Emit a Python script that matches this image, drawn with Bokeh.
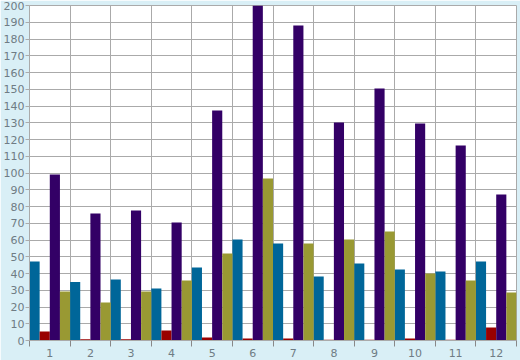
from bokeh.plotting import figure
from bokeh.models import FixedTicker, Range1d
from bokeh.embed import file_html
from bokeh.resources import INLINE

categories = ["1", "2", "3", "4", "5", "6", "7", "8", "9", "10", "11", "12"]
series_blue = [47.2, 35.0, 36.4, 31.0, 43.6, 60.3, 57.9, 38.2, 46.0, 42.4, 41.2, 47.2]
series_red = [5.4, 0.8, 0.8, 6.0, 1.8, 1.2, 1.2, 0.4, 0.5, 1.2, 0.5, 7.8]
series_purple = [99.1, 75.8, 77.6, 70.4, 137.3, 200.0, 188.1, 130.1, 150.4, 129.6, 116.4, 87.2]
series_olive = [29.3, 22.7, 29.3, 35.8, 51.9, 96.7, 57.9, 60.3, 65.1, 40.0, 35.8, 28.7]
y_ticks = list(range(0, 201, 10))

series = [series_blue, series_red, series_purple, series_olive]
colors = ["#006699", "#990000", "#330066", "#999933"]

n = len(categories)
xs = list(range(1, n + 1))

p = figure(width=520, height=360, output_backend="svg", toolbar_location=None,
           x_range=Range1d(0.5, n + 0.5), y_range=Range1d(0, 200),
           min_border_left=26, min_border_right=4, min_border_top=5, min_border_bottom=20)

p.background_fill_color = "white"
p.border_fill_color = "#d9eff6"
p.outline_line_color = "#aaaaaa"

bw = 1.0 / len(series)
for i, (vals, c) in enumerate(zip(series, colors)):
    off = -0.5 + bw * (i + 0.5)
    p.vbar(x=[x + off for x in xs], top=vals, bottom=0, width=bw,
           fill_color=c, line_color=None)

bounds = [x - 0.5 for x in xs] + [n + 0.5]
p.xaxis.ticker = FixedTicker(ticks=xs, minor_ticks=bounds)
p.xaxis.major_label_overrides = {x: c for x, c in zip(xs, categories)}
p.xaxis.major_tick_line_color = None
p.xaxis.minor_tick_line_color = "#888888"
p.xaxis.minor_tick_out = 6
p.xaxis.minor_tick_in = 0
p.xaxis.axis_line_color = "#aaaaaa"
p.xaxis.major_label_standoff = 2

p.yaxis.ticker = FixedTicker(ticks=y_ticks)
p.yaxis.minor_tick_line_color = None
p.yaxis.major_tick_line_color = "#aaaaaa"
p.yaxis.major_tick_out = 4
p.yaxis.major_tick_in = 0
p.yaxis.axis_line_color = "#aaaaaa"
p.yaxis.major_label_standoff = 1

for ax in (p.xaxis, p.yaxis):
    ax.major_label_text_font = "DejaVu Sans"
    ax.major_label_text_font_size = "11px"
    ax.major_label_text_color = "#6f7c84"

p.xgrid.ticker = FixedTicker(ticks=bounds)
p.xgrid.grid_line_color = "#aaaaaa"
p.ygrid.ticker = FixedTicker(ticks=y_ticks)
p.ygrid.grid_line_color = "#aaaaaa"

open("out.html", "w").write(file_html(p, INLINE))
